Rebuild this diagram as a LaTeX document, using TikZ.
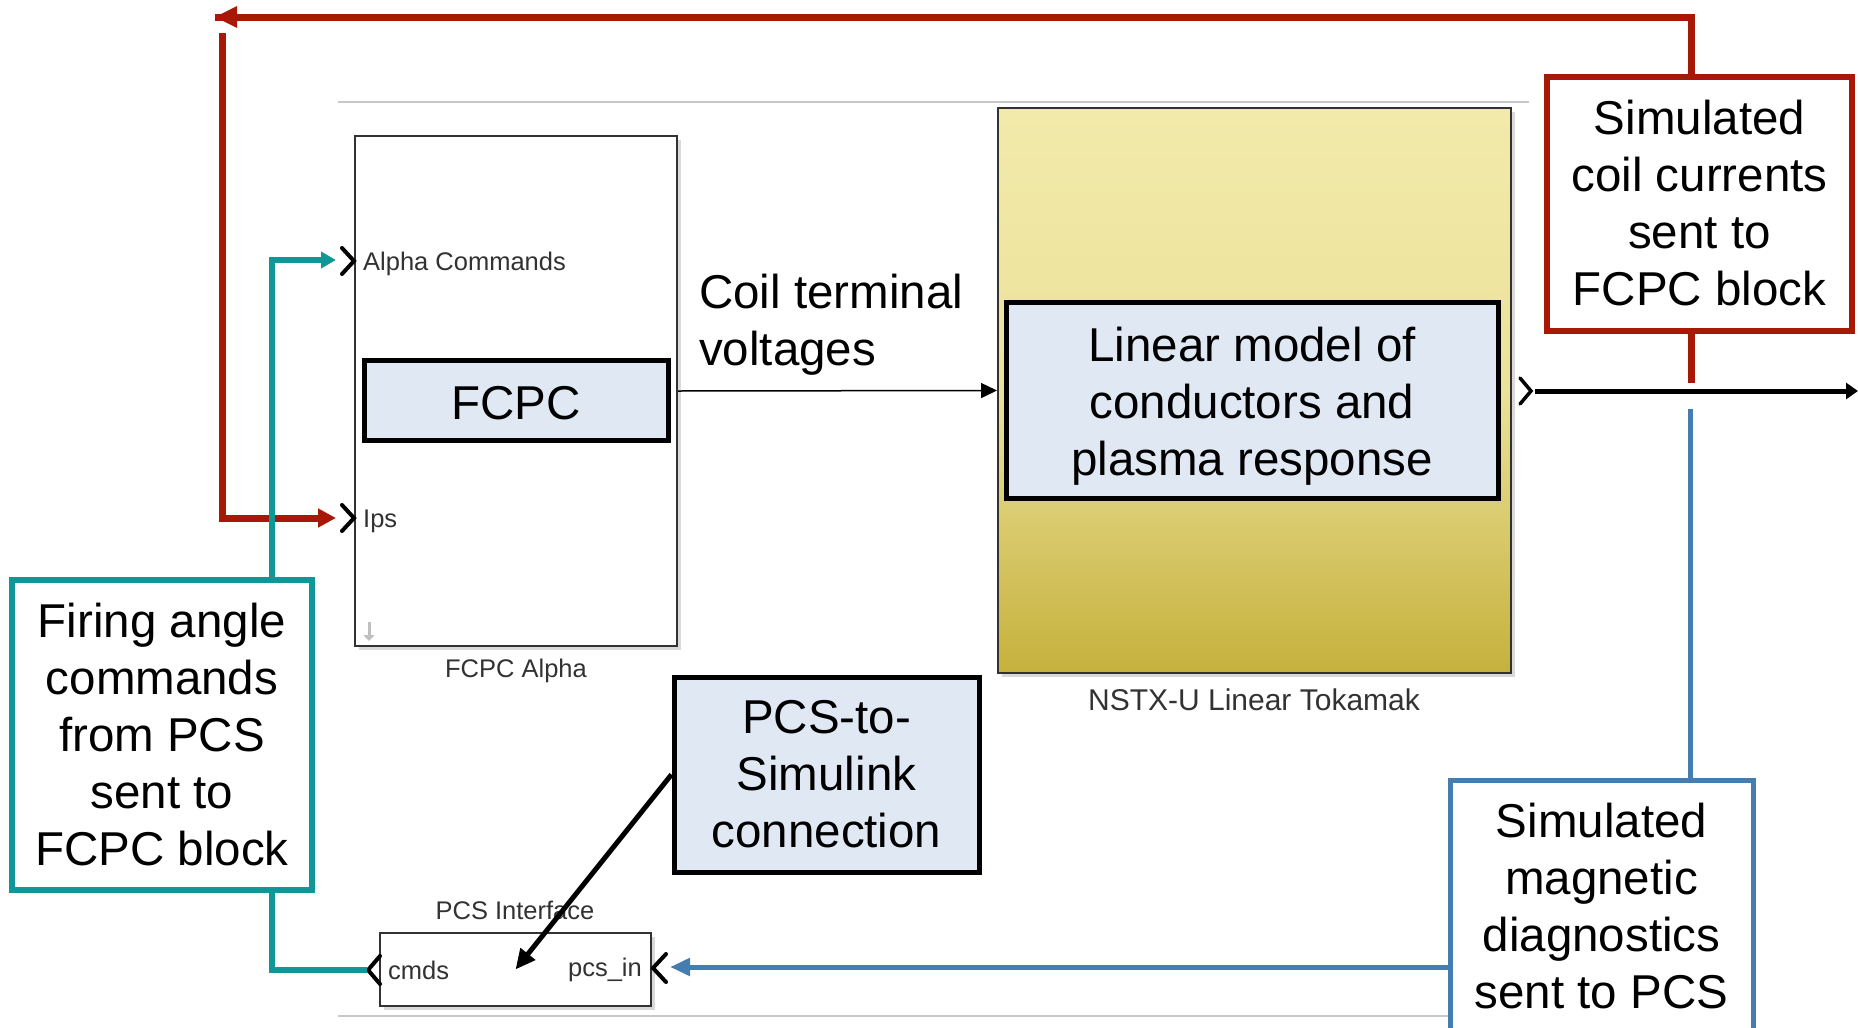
\documentclass[tikz,border=0pt]{standalone}
\usepackage{fontspec}
\setmainfont{Liberation Sans}
\usetikzlibrary{arrows.meta}
\definecolor{cred}{RGB}{168,24,6}
\definecolor{cteal}{RGB}{16,150,150}
\definecolor{cblue}{RGB}{70,125,176}
\definecolor{cfill}{RGB}{223,232,243}
\definecolor{ytop}{RGB}{242,234,170}
\definecolor{ybot}{RGB}{197,177,60}
\definecolor{sgray}{RGB}{50,50,50}
\definecolor{lgray}{RGB}{200,200,200}
\newcommand\bigtxt{\fontsize{47.5}{57}\selectfont}
\newcommand\smtxt{\fontsize{25.5}{28}\selectfont}
\begin{document}
\begin{tikzpicture}[x=1pt,y=-1pt,
  simblk/.style={draw=sgray,line width=2,fill=white,inner sep=0},
  labelbox/.style={draw=black,line width=5,fill=cfill,align=center,inner sep=0,font=\bigtxt},
  notebox/.style={line width=6,fill=white,align=center,inner sep=0,font=\bigtxt},
  simlabel/.style={font=\smtxt,text=sgray,inner sep=0},
  port/.style={line width=4,line cap=round,line join=miter,draw=black}
]
\useasboundingbox (0,0) rectangle (1858,1028);
\clip (0,0) rectangle (1858,1028);

% simulink canvas lines
\draw[lgray,line width=1.5] (338,102) -- (1529,102);
\draw[lgray,line width=1.5] (338,1016) -- (1450,1016);

% FCPC Alpha block
\fill[black!15] (359,140) rectangle (681,650);
\node[simblk,minimum width=322,minimum height=510] (fcpcblk) at (516,391) {};
\node[simlabel] (fcpclab) at (516,671) {FCPC Alpha};
\node[simlabel,anchor=west] (alphain) at (363,264) {Alpha Commands};
\node[simlabel,anchor=west] (ipsin) at (363,521) {Ips};
\draw[port] (342,248) -- (354,261) -- (342,274);
\draw[port] (342,505) -- (354,518) -- (342,531);
\draw[black!25,line width=3,-{Triangle[length=6,width=11]}] (369,622) -- (369,641);
\node[labelbox,minimum width=304,minimum height=80] (fcpc) at (516,400) {};
\node[font=\bigtxt,inner sep=0] (fcpctxt) at (516,403) {FCPC};

% Tokamak block
\fill[black!15] (1002,112) rectangle (1515,677);
\node[draw=sgray,line width=2,top color=ytop,bottom color=ybot,middle color=ytop!85!ybot,minimum width=513,minimum height=565,inner sep=0] (tok) at (1254.5,390.5) {};
\node[simlabel,font=\fontsize{30}{32}\selectfont] (toklab) at (1254,700) {NSTX-U Linear Tokamak};
\node[labelbox,minimum width=492,minimum height=196] (linmod) at (1252,400) {};
\node[font=\bigtxt,align=center,inner sep=0] (linmodtxt) at (1252,406) {Linear model of\\conductors and\\plasma response};
\draw[port,line width=3.5] (1520,378) -- (1531,391) -- (1520,404);

% coil terminal voltages
\node[font=\bigtxt,align=left,anchor=west,inner sep=0] (ctv) at (699,325) {Coil terminal\\voltages};
\draw[line width=1.5,-{Triangle[length=16,width=15]}] (fcpcblk.east) -- (tok.west);

% output line
\coordinate (outs) at (1535,391);
\coordinate (oute) at (1858,391);
\draw[line width=5,-{Triangle[length=12,width=16]}] (outs) -- (oute);

% red note and feedback
\node[notebox,draw=cred,minimum width=305,minimum height=254] (rednote) at (1699.5,203.5) {Simulated\\coil currents\\sent to\\FCPC block};
\coordinate (rtop) at (1691,17);
\coordinate (rleft) at (215,17);
\coordinate (rbot) at (1691,383);
\coordinate (r2s) at (222,33);
\coordinate (r2c) at (222,518);
\coordinate (ipsport) at (336,518);
\draw[cred,line width=7] (rednote.north -| rtop) -- (rtop) -- (rleft);
\fill[cred] (215,17) -- (237,6) -- (237,28) -- cycle;
\draw[cred,line width=7] (rednote.south -| rbot) -- (rbot);
\draw[cred,line width=7,-{Triangle[length=18,width=18]}] (r2s) -- (r2c) -- (ipsport);

% PCS interface block
\fill[black!15] (384,937) rectangle (655,1010);
\node[simblk,minimum width=271,minimum height=73] (pcsif) at (515.5,969.5) {};
\node[simlabel] (pcsiflab) at (515,910) {PCS Interface};
\node[simlabel,anchor=west] (cmds) at (388,970) {cmds};
\node[simlabel,anchor=east] (pcsin) at (642,970) {pcs\_in};
\draw[port] (380,956) -- (368,970) -- (380,984);
\draw[port] (666,954) -- (653,968) -- (666,982);

% teal note
\node[notebox,draw=cteal,minimum width=300,minimum height=310] (tealnote) at (162,735) {Firing angle\\commands\\from PCS\\sent to\\FCPC block};
\coordinate (t1) at (272,260);
\coordinate (alphaport) at (336,260);
\coordinate (t2) at (272,970);
\coordinate (cmdport) at (367,970);
\draw[cteal,line width=6,-{Triangle[length=15,width=16]}] (tealnote.north -| t1) -- (t1) -- (alphaport);
\draw[cteal,line width=6] (tealnote.south -| t2) -- (t2) -- (cmdport);

% blue note
\node[notebox,draw=cblue,line width=5,minimum width=303,minimum height=270,anchor=north] (bluenote) at (1601.5,778) {};
\node[font=\bigtxt,align=center,inner sep=0] (bluetxt) at (1601.5,906) {Simulated\\magnetic\\diagnostics\\sent to PCS};
\coordinate (b1) at (1690,409);
\coordinate (pcsport) at (670,967);
\draw[cblue,line width=5] (b1) -- (b1 |- bluenote.north);
\draw[cblue,line width=5,-{Triangle[length=20,width=17]}] (bluenote.west |- pcsport) -- (pcsport);

% PCS-to-Simulink note
\node[labelbox,minimum width=305,minimum height=195] (pcsnote) at (826.5,774.5) {PCS-to-\\Simulink\\connection};
\draw[line width=5,-{Triangle[length=20,width=18]}] (pcsnote.west) -- (pcsif.center);
\end{tikzpicture}
\end{document}
